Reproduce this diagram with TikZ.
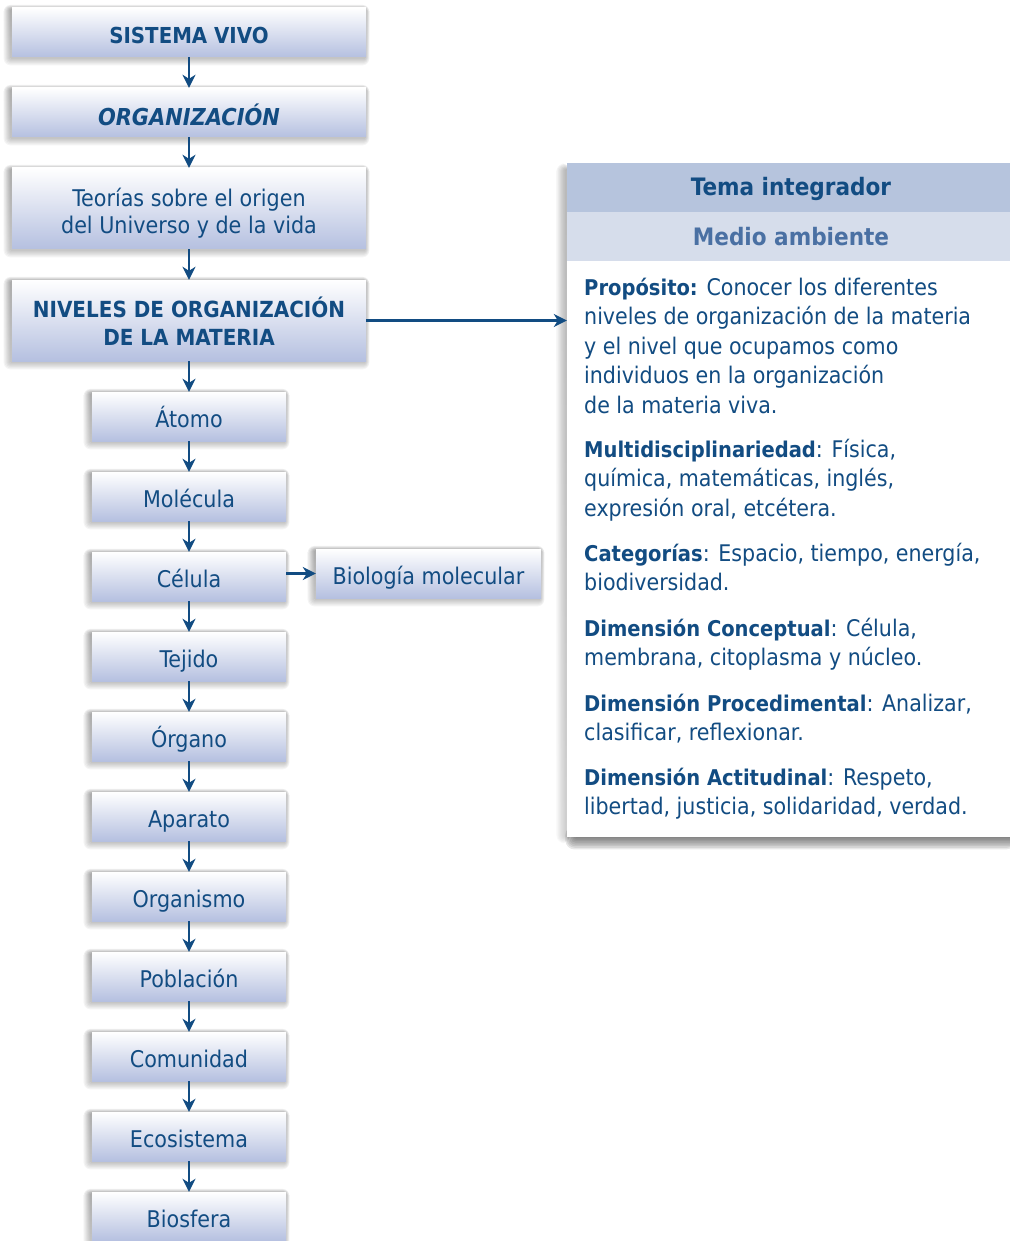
\documentclass[tikz,border=0pt]{standalone}
\usepackage{fontspec}
\setmainfont{DejaVu Sans Condensed}
\usetikzlibrary{arrows.meta,backgrounds}

\definecolor{ink}{HTML}{124C82}
\definecolor{inklight}{HTML}{4A70A3}
\definecolor{boxlow}{HTML}{B5C0E0}
\definecolor{bandA}{HTML}{B6C4DD}
\definecolor{bandB}{HTML}{D6DDEB}
\definecolor{shade}{HTML}{5A78CC}

% bold lead-in of a paragraph in the side panel
\newcommand\leadin[1]{{\fontsize{21.7}{24}\selectfont\bfseries #1}}

\begin{document}
\begin{tikzpicture}[x=1pt,y=-1pt,
  box/.style={draw=none, top color=white, bottom color=boxlow,
    text=ink, align=center, inner sep=0pt},
  wide/.style={box, minimum width=354pt},
  small/.style={box, minimum width=194pt, minimum height=49pt,
    text height=21pt, text depth=0pt,
    font=\fontsize{23}{26}\selectfont},
  label text/.style={text=ink, align=center, inner sep=0pt},
  flow/.style={draw=ink, line width=2.6pt,
    -{Stealth[length=13pt,width=13pt,inset=4pt]}},
  body/.style={anchor=base west, inner sep=0pt, text=ink,
    font=\fontsize{22.9}{26}\selectfont},
  bandtext/.style={inner sep=0pt, font=\fontsize{24}{26}\selectfont\bfseries},
]
\useasboundingbox (0,0) rectangle (1009,1241);

% main chain: the four wide boxes, with their captions set a little low
\node[wide, minimum height=49pt] (sv) at (189,32.5) {};
\node[label text, font=\fontsize{22}{24}\selectfont\bfseries]
  (svt) at ([yshift=-2.5pt]sv.center) {SISTEMA VIVO};
\node[wide, minimum height=49pt] (org) at (189,112.5) {};
\node[label text, font=\fontsize{23.3}{26}\selectfont\bfseries\itshape]
  (orgt) at ([yshift=-2pt]org.center) {ORGANIZACIÓN};
\node[wide, minimum height=81pt] (teo) at (189,208.5) {};
\node[label text, font=\fontsize{23}{27}\selectfont]
  (teot) at ([yshift=-4.5pt]teo.center) {Teorías sobre el origen\\del Universo y de la vida};
\node[wide, minimum height=81pt] (niv) at (189,320.5) {};
\node[label text, font=\fontsize{22.2}{28}\selectfont\bfseries]
  (nivt) at ([yshift=-0.5pt]niv.center) {NIVELES DE ORGANIZACIÓN\\DE LA MATERIA};

\node[small] (ato) at (189,416.5) {Átomo};
\node[small] (mol) at (189,496.5) {Molécula};
\node[small] (cel) at (189,576.5) {Célula};
\node[small] (tej) at (189,656.5) {Tejido};
\node[small] (organo) at (189,736.5) {Órgano};
\node[small] (apa) at (189,816.5) {Aparato};
\node[small] (orgm) at (189,896.5) {Organismo};
\node[small] (pob) at (189,976.5) {Población};
\node[small] (com) at (189,1056.5) {Comunidad};
\node[small] (eco) at (189,1136.5) {Ecosistema};
\node[small] (bios) at (189,1216.5) {Biosfera};

\node[small, minimum width=225pt] (bio) at (428.5,573.5) {Biología molecular};

% soft bluish shadows under the boxes
\begin{scope}[on background layer]
\foreach \n in {sv,org,teo,niv,ato,mol,cel,tej,organo,apa,orgm,pob,com,eco,bios,bio}
  \foreach \k in {1,...,7}
    \fill[shade, opacity=0.04, rounded corners=\k pt]
      ([shift={(-0.5-\k*1.1,2-\k*0.7)}]\n.north west) rectangle
      ([shift={(\k*0.6-1,0.5+\k*1.1)}]\n.south east);
\end{scope}

\draw[flow] (sv) -- (org);
\draw[flow] (org) -- (teo);
\draw[flow] (teo) -- (niv);
\draw[flow] (niv) -- (ato);
\draw[flow] (ato) -- (mol);
\draw[flow] (mol) -- (cel);
\draw[flow] (cel) -- (tej);
\draw[flow] (tej) -- (organo);
\draw[flow] (organo) -- (apa);
\draw[flow] (apa) -- (orgm);
\draw[flow] (orgm) -- (pob);
\draw[flow] (pob) -- (com);
\draw[flow] (com) -- (eco);
\draw[flow] (eco) -- (bios);
\draw[flow] (cel.east |- bio.west) -- (bio.west);

% integrating-theme panel with its shadow: a faint haze on the left,
% a deeper band along the bottom
\foreach \k in {1,...,8}
  \fill[shade, opacity=0.026, rounded corners=\k pt]
    (566-\k*1.2,170-\k*0.8) rectangle (570,836+\k*0.9);
\foreach \k in {1,...,9}
  \fill[shade, opacity=0.095, rounded corners=\k pt]
    (578-\k*1.4,826) rectangle (1015,835+\k*1.6);
\node[draw=none, fill=white, minimum width=445pt, minimum height=674pt, inner sep=0pt]
  (panel) at (789.5,500) {};
\fill[bandA] (panel.north west) rectangle ([yshift=-49pt]panel.north east);
\fill[bandB] ([yshift=-49pt]panel.north west) rectangle ([yshift=-98pt]panel.north east);
\node[bandtext, text=ink] (tema) at (791,189) {Tema integrador};
\node[bandtext, text=inklight] (medio) at (791,237) {Medio ambiente};

\draw[flow] (niv.east) -- (niv.east -| panel.west);

\node[body] (p1) at (584,295) {\leadin{Propósito:} Conocer los diferentes};
\node[body] (p2) at (584,324.5) {niveles de organización de la materia};
\node[body] (p3) at (584,354) {y el nivel que ocupamos como};
\node[body] (p4) at (584,383.5) {individuos en la organización};
\node[body] (p5) at (584,413) {de la materia viva.};

\node[body] (m1) at (584,457) {\leadin{Multidisciplinariedad}: Física,};
\node[body] (m2) at (584,486.5) {química, matemáticas, inglés,};
\node[body] (m3) at (584,516) {expresión oral, etcétera.};

\node[body] (c1) at (584,561) {\leadin{Categorías}: Espacio, tiempo, energía,};
\node[body] (c2) at (584,590.5) {biodiversidad.};

\node[body] (d1) at (584,636) {\leadin{Dimensión Conceptual}: Célula,};
\node[body] (d2) at (584,665.5) {membrana, citoplasma y núcleo.};

\node[body] (e1) at (584,711) {\leadin{Dimensión Procedimental}: Analizar,};
\node[body] (e2) at (584,740.5) {clasificar, reflexionar.};

\node[body] (f1) at (584,785) {\leadin{Dimensión Actitudinal}: Respeto,};
\node[body] (f2) at (584,814.5) {libertad, justicia, solidaridad, verdad.};
\end{tikzpicture}
\end{document}
